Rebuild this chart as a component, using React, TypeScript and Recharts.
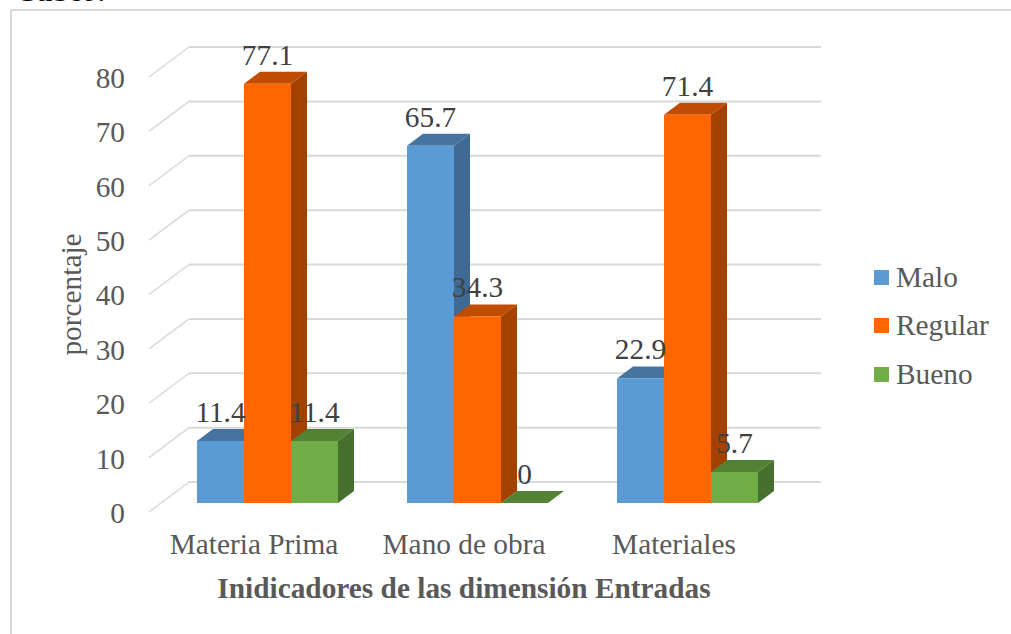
import { BarChart, Bar, XAxis, YAxis, CartesianGrid, LabelList, Legend } from 'recharts'

const categories = ['Materia Prima', 'Mano de obra', 'Materiales']
const malo = [11.4, 65.7, 22.9]
const regular = [77.1, 34.3, 71.4]
const bueno = [11.4, 0, 5.7]
const yTicks = [0, 10, 20, 30, 40, 50, 60, 70, 80]

const data = categories.map((name, i) => ({
  name,
  Malo: malo[i],
  Regular: regular[i],
  Bueno: bueno[i],
}))

// how far the back wall sits from the front plane
const DEPTH_X = 16
const DEPTH_Y = 12

const TEXT = '#595959'
const SERIF = '"Liberation Serif", "Times New Roman", serif'
const FONT_SIZE = 29.33

const shades: Record<string, { top: string; side: string }> = {
  '#5B9BD5': { top: '#44749F', side: '#3E6A93' },
  '#FF6600': { top: '#BF4C00', side: '#A34100' },
  '#70AD47': { top: '#548235', side: '#476F2D' },
}

function Bar3D({ x, y, width, height, fill }: any) {
  const { top, side } = shades[fill]
  const r = x + width
  const b = y + height
  return (
    <g>
      <polygon
        points={`${x},${y} ${x + DEPTH_X},${y - DEPTH_Y} ${r + DEPTH_X},${y - DEPTH_Y} ${r},${y}`}
        fill={top}
      />
      <polygon
        points={`${r},${y} ${r + DEPTH_X},${y - DEPTH_Y} ${r + DEPTH_X},${b - DEPTH_Y} ${r},${b}`}
        fill={side}
      />
      <rect x={x} y={y} width={width} height={height} fill={fill} />
    </g>
  )
}

// gridlines run along the back wall, with a diagonal down to the front-left corner
function WallLine({ x1, x2, y1 }: any) {
  const wallX = x1 + 27
  const wallY = y1 - 21
  return (
    <g stroke="#D9D9D9" fill="none">
      <line x1={x1 - 13} y1={y1 + 9} x2={wallX} y2={wallY} strokeWidth={1.5} />
      <line x1={wallX} y1={wallY} x2={x2 + 29} y2={wallY} strokeWidth={2} />
    </g>
  )
}

function LegendBox({ payload }: any) {
  const order = ['Malo', 'Regular', 'Bueno']
  const items = order.map(k => payload.find((p: any) => p.value === k)).filter(Boolean)
  return (
    <div style={{ fontFamily: SERIF, fontSize: FONT_SIZE, color: TEXT }}>
      {items.map((p: any) => (
        <div key={p.value} style={{ display: 'flex', alignItems: 'center', height: 48.5 }}>
          <span style={{ width: 15, height: 15, background: p.color, marginRight: 7 }} />
          {p.value}
        </div>
      ))}
    </div>
  )
}

export default function App() {
  const labelStyle = { fontFamily: SERIF, fontSize: FONT_SIZE, fill: '#404040' }
  return (
    <div style={{ position: 'absolute', left: 0, top: 0, width: 1011, height: 634, overflow: 'hidden', background: '#fff' }}>
      {/* line of document text above the chart, cut off by the page edge */}
      <div style={{ position: 'absolute', left: 15, top: -26, fontFamily: SERIF, fontSize: 29.33, lineHeight: '34px', fontWeight: 700, color: '#000' }}>
        Cubeo:
      </div>
      {/* chart frame, open towards the right and bottom of the page */}
      <div style={{ position: 'absolute', left: 10, top: 9, width: 1010, height: 640, border: '2px solid #D9D9D9' }} />
      <BarChart
        width={1011}
        height={634}
        data={data}
        margin={{ top: 68, right: 219, bottom: 31, left: 102 }}
        barCategoryGap={35}
        barGap={0}
        style={{ position: 'absolute', left: 0, top: 0 }}
      >
        <CartesianGrid vertical={false} horizontal={<WallLine />} syncWithTicks />
        <XAxis
          dataKey="name"
          height={100}
          axisLine={false}
          tickLine={false}
          interval={0}
          tickMargin={24}
          tick={{ fontFamily: SERIF, fontSize: FONT_SIZE, fill: TEXT, dx: -13 }}
          label={{
            value: 'Inidicadores de las dimensión Entradas',
            position: 'insideBottom',
            offset: 5,
            dx: -13,
            style: { fontFamily: SERIF, fontSize: FONT_SIZE, fontWeight: 700, fill: TEXT },
          }}
        />
        <YAxis
          width={60}
          domain={[0, 80]}
          ticks={yTicks}
          axisLine={false}
          tickLine={false}
          tickMargin={31}
          tick={{ fontFamily: SERIF, fontSize: FONT_SIZE, fill: TEXT, dy: 9.5 }}
          label={{
            value: 'porcentaje',
            angle: -90,
            position: 'insideLeft',
            dx: -36,
            dy: 9,
            style: { fontFamily: SERIF, fontSize: FONT_SIZE, fill: TEXT, textAnchor: 'middle' },
          }}
        />
        <Legend
          content={<LegendBox />}
          layout="vertical"
          wrapperStyle={{ position: 'absolute', left: 874, top: 253, width: 130, height: 0, bottom: 'auto', right: 'auto', overflow: 'visible' }}
        />
        <Bar dataKey="Malo" fill="#5B9BD5" shape={<Bar3D />} isAnimationActive={false}>
          <LabelList dataKey="Malo" position="top" offset={19} style={labelStyle} />
        </Bar>
        <Bar dataKey="Regular" fill="#FF6600" shape={<Bar3D />} isAnimationActive={false}>
          <LabelList dataKey="Regular" position="top" offset={19} style={labelStyle} />
        </Bar>
        <Bar dataKey="Bueno" fill="#70AD47" shape={<Bar3D />} isAnimationActive={false}>
          <LabelList dataKey="Bueno" position="top" offset={19} style={labelStyle} />
        </Bar>
      </BarChart>
    </div>
  )
}
